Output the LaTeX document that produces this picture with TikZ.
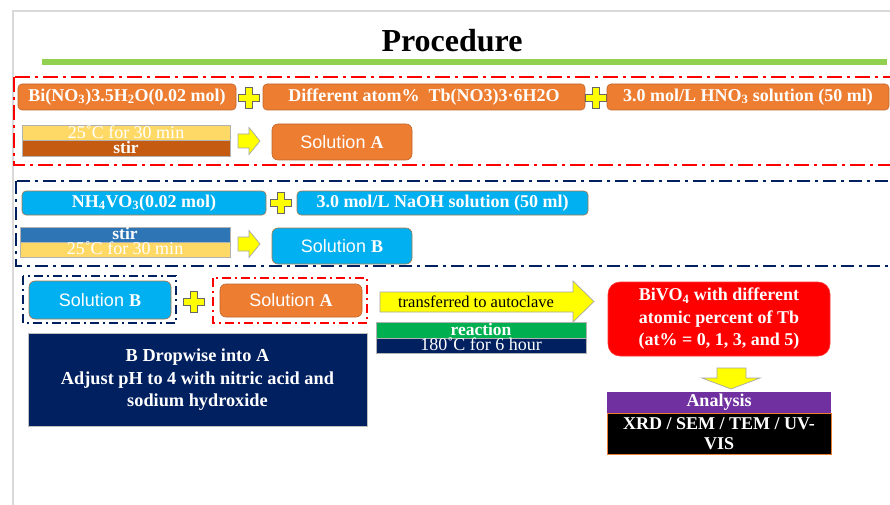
\documentclass[tikz,border=0pt]{standalone}
\usepackage{fontspec}
\setmainfont{Liberation Serif}
\setsansfont{Liberation Sans}
\definecolor{orangeA}{HTML}{ED7D31}
\definecolor{orangeEdge}{HTML}{C0662A}
\definecolor{cyanB}{HTML}{00B0F0}
\definecolor{cyanEdge}{HTML}{A8784A}
\definecolor{steelB}{HTML}{2E75B6}
\definecolor{sandY}{HTML}{FFD966}
\definecolor{brownS}{HTML}{C55A11}
\definecolor{navyN}{HTML}{002060}
\definecolor{greenR}{HTML}{00B050}
\definecolor{greenL}{HTML}{92D050}
\definecolor{purpleP}{HTML}{7030A0}
\definecolor{redR}{HTML}{FF0000}
\definecolor{yellowA}{HTML}{FFFF00}
\definecolor{grayF}{HTML}{D9D9D9}
\newcommand\lowr[1]{\raisebox{-2pt}{#1}}
\tikzset{
  obox/.style={draw=orangeEdge, line width=0.6pt, fill=orangeA, rounded corners=4pt, text=white, inner sep=0pt,
    font=\bfseries\fontsize{18}{20}\selectfont},
  cbox/.style={draw=cyanEdge, line width=0.6pt, fill=cyanB, rounded corners=4pt, text=white, inner sep=0pt,
    font=\bfseries\fontsize{18}{20}\selectfont},
  solbox/.style={line width=0.6pt, rounded corners=6pt, text=white, inner sep=0pt,
    font=\sffamily\fontsize{18}{20}\selectfont},
  barbox/.style={draw=gray!60, line width=0.5pt, inner sep=0pt, text=white, text height=1.5ex, text depth=0.05ex},
  plusst/.style={fill=yellowA, draw=gray!80!black, line width=0.7pt, line join=miter},
  arrowst/.style={fill=yellowA, draw=gray!70, line width=0.7pt},
  reddash/.style={draw=redR, line width=2pt, dash pattern=on 15pt off 5pt on 3pt off 5pt},
  navydash/.style={draw=navyN, line width=2pt, dash pattern=on 13pt off 5pt on 3pt off 5pt},
  reddashs/.style={draw=redR, line width=1.6pt, dash pattern=on 9pt off 4pt on 2pt off 4pt},
  navydashs/.style={draw=navyN, line width=1.6pt, dash pattern=on 9pt off 4pt on 2pt off 4pt},
}
\newcommand\yplus[2]{%
  \begin{scope}[shift={(#1,#2)}]
    \draw[plusst] (-10.5,-3.5) -- (-3.5,-3.5) -- (-3.5,-10.5) -- (3.5,-10.5) -- (3.5,-3.5) -- (10.5,-3.5)
      -- (10.5,3.5) -- (3.5,3.5) -- (3.5,10.5) -- (-3.5,10.5) -- (-3.5,3.5) -- (-10.5,3.5) -- cycle;
  \end{scope}}
\newcommand\yrarrow[2]{%
  \begin{scope}[shift={(#1,#2)}]
    \draw[arrowst] (0,-7) -- (11,-7) -- (11,-13.5) -- (22,0) -- (11,13.5) -- (11,7) -- (0,7) -- cycle;
  \end{scope}}
\begin{document}
\begin{tikzpicture}[x=1pt, y=-1pt]
\clip (0,0) rectangle (890,505);
\fill[white] (0,0) rectangle (890,505);
% slide frame
\draw[grayF, line width=1.2pt] (13,505) -- (13,11) -- (890,11);
% title
\node[font=\bfseries\fontsize{32}{36}\selectfont] (title) at (452,41) {Procedure};
\fill[greenL] (42,59) rectangle (887,65);

% ---------- block A ----------
\draw[reddash] (14,77) rectangle (900,165);
\node[obox, minimum width=218pt, minimum height=26pt] (bi) at (127,97)
  {Bi(NO\textsubscript{3})3.5H\textsubscript{2}O(0.02 mol)};
\yplus{249}{98}
\node[obox, minimum width=322pt, minimum height=26pt] (tb) at (424,97)
  {Different atom\%\ \ Tb(NO3)3·6H2O};
\yplus{596}{98}
\node[obox, minimum width=282pt, minimum height=26pt] (hno) at (748,97)
  {3.0 mol/L HNO\textsubscript{3} solution (50 ml)};

\node[barbox, fill=sandY, minimum width=208pt, minimum height=15.5pt, font=\fontsize{18}{19}\selectfont] (ta) at (126,132.75) {\lowr{25˚C for 30 min}};
\node[barbox, fill=brownS, minimum width=208pt, minimum height=15.5pt, font=\bfseries\fontsize{17.5}{19}\selectfont] (sa) at (126,148.25) {\lowr{stir}};
\yrarrow{238}{141}
\node[solbox, draw=orangeEdge, fill=orangeA, minimum width=140pt, minimum height=36pt] (solA) at (342,142)
  {Solution {\rmfamily\bfseries A}};

% ---------- block B ----------
\draw[navydash] (16,181) rectangle (900,266);
\node[cbox, minimum width=244pt, minimum height=24pt] (nh) at (144,203)
  {NH\textsubscript{4}VO\textsubscript{3}(0.02 mol)};
\yplus{281}{203}
\node[cbox, minimum width=291pt, minimum height=24pt] (naoh) at (442.5,203)
  {3.0 mol/L NaOH solution (50 ml)};

\node[barbox, fill=steelB, minimum width=210pt, minimum height=15pt, font=\bfseries\fontsize{17.5}{19}\selectfont] (sb) at (125,234.5) {\lowr{stir}};
\node[barbox, fill=sandY, minimum width=210pt, minimum height=15pt, font=\fontsize{18}{19}\selectfont] (tbb) at (125,249.5) {\lowr{25˚C for 30 min}};
\yrarrow{238}{244}
\node[solbox, draw=cyanEdge, fill=cyanB, minimum width=140pt, minimum height=36pt] (solB) at (342,246)
  {Solution {\rmfamily\bfseries B}};

% ---------- mixing ----------
\draw[navydashs] (23,276) rectangle (176,323);
\node[solbox, draw=cyanEdge, fill=cyanB, minimum width=142pt, minimum height=38pt] (solB2) at (100,300)
  {Solution {\rmfamily\bfseries B}};
\yplus{194}{302}
\draw[reddashs] (213,278) rectangle (367,323);
\node[solbox, draw=orangeEdge, fill=orangeA, minimum width=142pt, minimum height=33pt] (solA2) at (291,300.5)
  {Solution {\rmfamily\bfseries A}};

\node[draw=gray!50, line width=0.5pt, fill=navyN, text=white, minimum width=339pt, minimum height=93pt, inner sep=0pt,
  align=center, font=\bfseries\fontsize{18.3}{22.5}\selectfont] (drop) at (197.5,380)
  {B Dropwise into A\\Adjust pH to 4 with nitric acid and\\sodium hydroxide};

% autoclave arrow
\draw[arrowst] (380,292) -- (573,292) -- (573,281) -- (594,301.5) -- (573,322) -- (573,312) -- (380,312) -- cycle;
\node[font=\fontsize{16.5}{18}\selectfont] (auto) at (476,302) {transferred to autoclave};
\node[barbox, fill=greenR, minimum width=210pt, minimum height=16pt, font=\bfseries\fontsize{17.5}{18}\selectfont] (react) at (481,330) {\lowr{reaction}};
\node[barbox, fill=navyN, minimum width=210pt, minimum height=15pt, font=\fontsize{18}{19}\selectfont] (temp) at (481,345.5) {\lowr{180˚C for 6 hour}};

% product
\node[draw=redR!80!white, line width=0.6pt, fill=redR, rounded corners=12pt, text=white, minimum width=222pt, minimum height=74pt,
  inner sep=0pt, align=center, font=\bfseries\fontsize{18}{22.5}\selectfont] (bivo) at (719,319)
  {BiVO\textsubscript{4} with different\\atomic percent of Tb\\(at\% = 0, 1, 3, and 5)};
\draw[arrowst] (717,368) -- (746,368) -- (746,378) -- (760,378) -- (731,389) -- (702,378) -- (717,378) -- cycle;
\node[fill=purpleP, text=white, minimum width=224pt, minimum height=21pt, inner sep=0pt,
  font=\bfseries\fontsize{18}{20}\selectfont] (anal) at (719,402.5) {Analysis};
\node[draw=orangeA, line width=0.8pt, fill=black, text=white, minimum width=224pt, minimum height=41pt, inner sep=0pt,
  align=center, font=\bfseries\fontsize{18}{20}\selectfont] (xrd) at (719,433.5) {XRD / SEM / TEM / UV-\\VIS};
\end{tikzpicture}
\end{document}
